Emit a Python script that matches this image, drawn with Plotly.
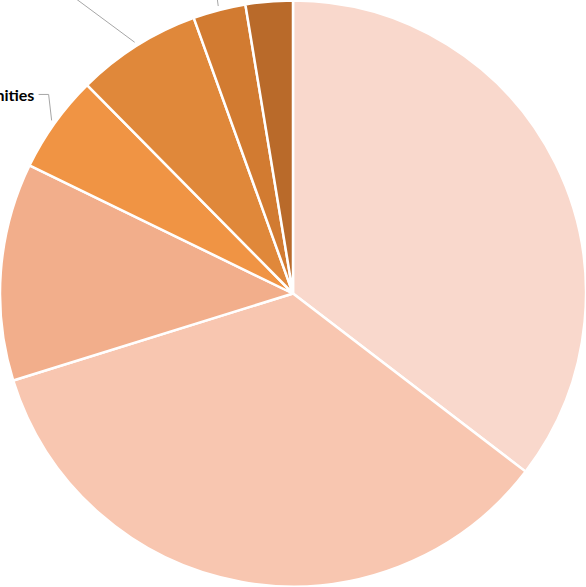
import math
import plotly.graph_objects as go

# ---- data (percent shares, clockwise from 12 o'clock) ----
categories = ["Category A", "Category B", "Category C", "Communities",
              "Category E", "Category F", "Category G"]
values = [35.4, 34.8, 12.0, 5.4, 6.9, 2.9, 2.6]
colors = ["#F9D8CC", "#F8C6B0", "#F2AE8B", "#F09444",
          "#E0883A", "#D27B31", "#B96A2A"]

W, H = 586, 587

fig = go.Figure(go.Pie(
    labels=categories,
    values=values,
    sort=False,
    direction="clockwise",
    rotation=0,
    marker=dict(colors=colors, line=dict(color="white", width=2.5)),
    textinfo="none",
    hoverinfo="label+percent",
    domain=dict(x=[0, 1], y=[0, 1]),
    showlegend=False,
))

# ---- leader lines computed from slice mid-angles ----
cx, cy, r = W / 2, H / 2, min(W, H) / 2
total = sum(values)


def edge_point(i, extra=4):
    start = sum(values[:i]) / total * 360
    mid = start + values[i] / total * 180
    a = math.radians(mid)
    rr = r + extra
    return cx + rr * math.sin(a), cy - rr * math.cos(a)


def to_paper(px, py):
    return px / W, 1 - py / H


shapes = []
line_style = dict(color="#A6A6A6", width=1)

# Communities leader: up, then left to the label
x0, y0 = edge_point(3)
pts = [(x0, y0), (x0 - 3, y0 - 26), (x0 - 13, y0 - 26)]
path = "M " + " L ".join("{:.4f},{:.4f}".format(*to_paper(*p)) for p in pts)
shapes.append(dict(type="path", xref="paper", yref="paper", path=path, line=line_style))
label_x, label_y = pts[-1][0] - 3, pts[-1][1]

# Category E leader
x0, y0 = edge_point(4)
pts = [(x0, y0), (x0 - 108, y0 - 80)]
path = "M " + " L ".join("{:.4f},{:.4f}".format(*to_paper(*p)) for p in pts)
shapes.append(dict(type="path", xref="paper", yref="paper", path=path, line=line_style))

# Category F leader
x0, y0 = edge_point(5)
pts = [(x0, y0), (x0 - 2, y0 - 15)]
path = "M " + " L ".join("{:.4f},{:.4f}".format(*to_paper(*p)) for p in pts)
shapes.append(dict(type="path", xref="paper", yref="paper", path=path, line=line_style))

lx, ly = to_paper(label_x, label_y)
fig.add_annotation(
    x=lx, y=ly, xref="paper", yref="paper",
    text="<b>Communities</b>", showarrow=False,
    xanchor="right", yanchor="middle",
    font=dict(family="Lato, Open Sans, sans-serif", size=16, color="#000000"),
)

fig.update_layout(
    width=W, height=H,
    margin=dict(l=0, r=0, t=0, b=0),
    paper_bgcolor="white",
    plot_bgcolor="white",
    shapes=shapes,
)

fig.write_html("out.html", config={"displayModeBar": False},
               post_script="document.body.style.margin='0';")
